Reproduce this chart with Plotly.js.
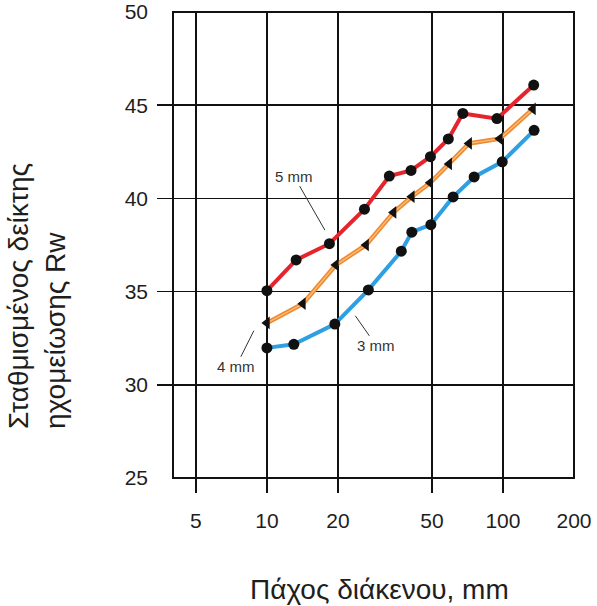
<!DOCTYPE html>
<html>
<head>
<meta charset="utf-8">
<script src="https://cdn.plot.ly/plotly-3.0.1.min.js"></script>
<style>
html,body{margin:0;padding:0;background:#fff;}
#chart{width:597px;height:606px;}
</style>
</head>
<body>
<div id="chart"></div>
<script>
// Data
const x5mm = [10, 13.3, 18.4, 25.9, 33, 40.8, 49.3, 58.7, 67.6, 94.3, 135];
const y5mm = [35.05, 36.7, 37.57, 39.42, 41.2, 41.5, 42.24, 43.19, 44.56, 44.28, 46.08];

const x4mm = [10, 14.2, 19.6, 26.3, 34.4, 41.1, 49.2, 59.2, 71.9, 97, 134];
const y4mm = [33.32, 34.35, 36.43, 37.5, 39.25, 40.09, 40.84, 41.85, 42.95, 43.2, 44.8];

const x3mm = [10, 13.0, 19.4, 26.9, 37.1, 41.1, 49.5, 61.5, 75.5, 99.3, 135.5];
const y3mm = [31.98, 32.17, 33.26, 35.09, 37.17, 38.19, 38.59, 40.08, 41.15, 41.96, 43.65];

const xTickVals = [5, 10, 20, 50, 100, 200];
const xTickText = ['5', '10', '20', '50', '100', '200'];
const xGridVals = [5, 10, 20, 50, 100];
const yTickVals = [25, 30, 35, 40, 45, 50];
const yGridVals = [30, 35, 40, 45];

const labels = [
  {text: '5 mm', x: 17.6, y: 38.3, ax: -31, ay: -54},
  {text: '4 mm', x: 8.8, y: 32.9, ax: -18, ay: 36},
  {text: '3 mm', x: 23.7, y: 33.7, ax: 21, ay: 30}
];

const xTitle = 'Πάχος διάκενου, mm';
const yTitle = 'Σταθμισμένος δείκτης<br>ηχομείωσης Rw';

const FONT = 'Liberation Sans, Arial, sans-serif';
const TXT = '#1e1e1e';

const traces = [
  {x: x3mm, y: y3mm, mode: 'lines', line: {color: '#2d9fe2', width: 4}},
  {x: x3mm, y: y3mm, mode: 'markers', marker: {color: '#111', size: 11, symbol: 'circle'}},
  {x: x4mm, y: y4mm, mode: 'lines', line: {color: '#f08a32', width: 4.5}},
  {x: x4mm, y: y4mm, mode: 'lines', line: {color: '#f9c27a', width: 1.2}},
  {x: x4mm, y: y4mm, mode: 'markers', marker: {color: '#111', size: 11, symbol: 'triangle-left'}},
  {x: x5mm, y: y5mm, mode: 'lines', line: {color: '#e4252d', width: 4}},
  {x: x5mm, y: y5mm, mode: 'markers', marker: {color: '#111', size: 11, symbol: 'circle'}}
];

const xr = [Math.log10(4.0), Math.log10(200)];
const yr = [25, 50];

const layout = {
  width: 597, height: 606,
  margin: {l: 173, r: 23, t: 12, b: 128},
  paper_bgcolor: '#fff', plot_bgcolor: '#fff',
  showlegend: false,
  font: {family: FONT, color: TXT},
  xaxis: {
    type: 'log', range: xr, tickvals: xTickVals, ticktext: xTickText,
    ticks: '', showgrid: false, zeroline: false, showline: false,
    tickfont: {size: 21, color: TXT, family: FONT}, ticklabelstandoff: 28
  },
  yaxis: {
    range: yr, tickvals: yTickVals, ticks: '', showgrid: false, zeroline: false,
    showline: false, tickfont: {size: 21, color: TXT, family: FONT}, ticklabelstandoff: 24
  },
  xaxis2: {
    type: 'log', range: xr, overlaying: 'x', tickvals: xGridVals, showticklabels: false,
    ticks: 'outside', ticklen: 14, tickwidth: 1.6, tickcolor: '#111',
    showgrid: true, gridcolor: '#111', gridwidth: 1.6, zeroline: false, showline: false
  },
  yaxis2: {
    range: yr, overlaying: 'y', tickvals: yGridVals, showticklabels: false,
    ticks: 'outside', ticklen: 15, tickwidth: 1.6, tickcolor: '#111',
    showgrid: true, gridcolor: '#111', gridwidth: 1.6, zeroline: false, showline: false
  },
  shapes: [
    {type: 'rect', xref: 'paper', yref: 'paper', x0: 0, x1: 1, y0: 0, y1: 1,
     line: {color: '#111', width: 2}, layer: 'above'}
  ],
  annotations: labels.map(l => ({
    text: l.text, x: Math.log10(l.x), y: l.y, xref: 'x', yref: 'y',
    ax: l.ax, ay: l.ay, showarrow: true, arrowhead: 0, arrowwidth: 1, arrowcolor: '#333',
    standoff: 0, startstandoff: 0, font: {size: 15, color: '#333', family: FONT}
  })).concat([
    {text: xTitle, xref: 'paper', yref: 'paper', x: 0.516, y: -0.24, showarrow: false,
     xanchor: 'center', yanchor: 'middle', font: {size: 28, color: TXT, family: FONT}},
    {text: yTitle, xref: 'paper', yref: 'paper', x: -0.34, y: 0.39, showarrow: false,
     textangle: -90, align: 'left', xanchor: 'center', yanchor: 'middle',
     font: {size: 28, color: TXT, family: FONT}}
  ])
};

// Invisible anchor trace so the overlay axes (ticks + grid) are drawn
traces.push({x: [10], y: [30], xaxis: 'x2', yaxis: 'y2', mode: 'markers',
  marker: {opacity: 0}, hoverinfo: 'skip'});

Plotly.newPlot('chart', traces, layout, {staticPlot: true});
</script>
</body>
</html>
